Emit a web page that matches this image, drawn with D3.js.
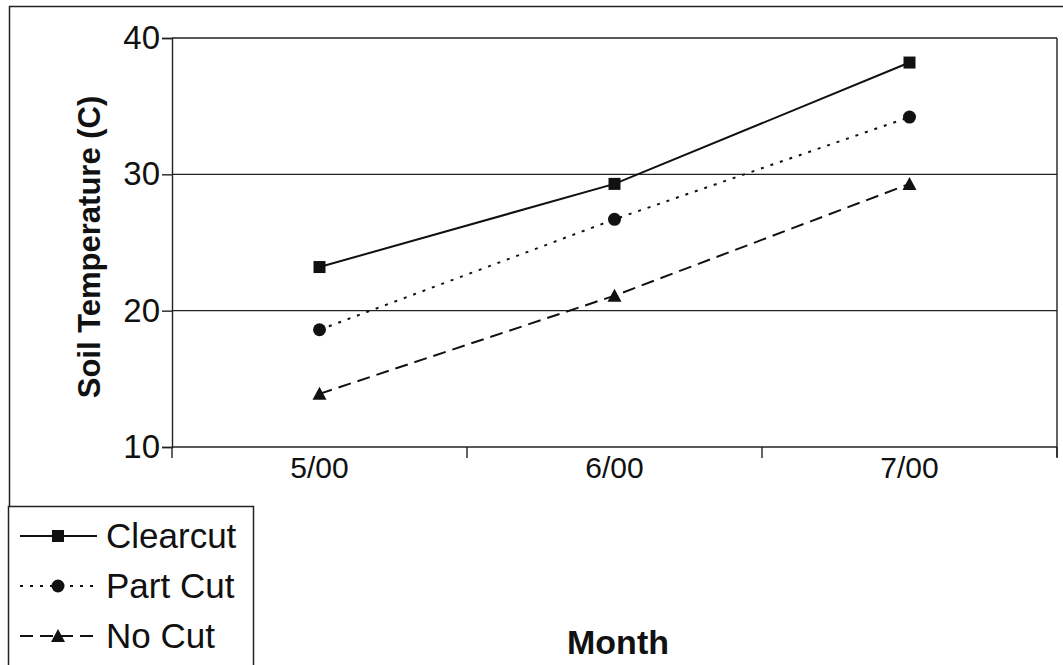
<!DOCTYPE html>
<html>
<head>
<meta charset="utf-8">
<script src="https://cdn.jsdelivr.net/npm/d3@7"></script>
<style>
	body { margin: 0; background: #fff; }
	text { font-family: "Liberation Sans", Arial, sans-serif; fill: #111; }
</style>
</head>
<body>
<svg id="chart" width="1063" height="665"></svg>
<script>
var months = ["5/00", "6/00", "7/00"];
var clearcut = [23.2, 29.3, 38.2];
var partCut = [18.6, 26.7, 34.2];
var noCut = [13.9, 21.1, 29.3];
var yTicks = [10, 20, 30, 40];

var seriesList = [
	{ name: "Clearcut", values: clearcut, dash: null, marker: "square" },
	{ name: "Part Cut", values: partCut, dash: "3,7", marker: "circle" },
	{ name: "No Cut", values: noCut, dash: "13,7", marker: "triangle" }
];

var svg = d3.select("#chart");
var plot = { left: 172, right: 1057, top: 38, bottom: 447 };

// outer chart border
svg.append("rect")
	.attr("x", 9.5).attr("y", 6.5)
	.attr("width", 1060).attr("height", 670)
	.attr("fill", "none").attr("stroke", "#222").attr("stroke-width", 1.5);

var x = d3.scaleBand().domain(months).range([plot.left, plot.right]);
var y = d3.scaleLinear().domain([10, 40]).range([plot.bottom, plot.top]);

// gridlines
svg.selectAll("line.grid")
	.data(yTicks.slice(1))
	.enter()
	.append("line")
	.attr("class", "grid")
	.attr("x1", plot.left).attr("x2", plot.right)
	.attr("y1", function(d) { return y(d); })
	.attr("y2", function(d) { return y(d); })
	.attr("stroke", "#222").attr("stroke-width", 1.4);

// right edge of plot area
svg.append("line")
	.attr("x1", plot.right).attr("x2", plot.right)
	.attr("y1", plot.top).attr("y2", plot.bottom + 10)
	.attr("stroke", "#222").attr("stroke-width", 1.4);

// y axis
var yAxis = d3.axisLeft(y).tickValues(yTicks).tickSize(10).tickPadding(2);
var gy = svg.append("g").attr("transform", "translate(" + plot.left + ",0)").call(yAxis);
gy.select(".domain").attr("stroke", "#222").attr("stroke-width", 1.4);
gy.selectAll(".tick line").attr("stroke", "#222").attr("stroke-width", 1.4);
gy.selectAll(".tick text").style("font-size", "33px").attr("fill", "#111");

// x axis, ticks on the category boundaries
var gx = svg.append("g").attr("transform", "translate(0," + plot.bottom + ")");
gx.append("line")
	.attr("x1", plot.left).attr("x2", plot.right)
	.attr("stroke", "#222").attr("stroke-width", 1.4);
var bounds = months.map(function(m) { return x(m); }).concat([x(months[months.length - 1]) + x.bandwidth()]);
gx.selectAll("line.tick")
	.data(bounds)
	.enter()
	.append("line")
	.attr("class", "tick")
	.attr("x1", function(d) { return d; }).attr("x2", function(d) { return d; })
	.attr("y1", 0).attr("y2", 11)
	.attr("stroke", "#222").attr("stroke-width", 1.4);
gx.selectAll("text.label")
	.data(months)
	.enter()
	.append("text")
	.attr("class", "label")
	.attr("x", function(d) { return x(d) + x.bandwidth() / 2; })
	.attr("y", 31)
	.attr("text-anchor", "middle")
	.style("font-size", "30px")
	.text(function(d) { return d; });

// axis titles
svg.append("text")
	.attr("x", 618).attr("y", 654)
	.attr("text-anchor", "middle")
	.style("font-size", "34px").style("font-weight", "bold")
	.text("Month");
svg.append("text")
	.attr("transform", "translate(100,247) rotate(-90)")
	.attr("text-anchor", "middle")
	.style("font-size", "31px").style("font-weight", "bold")
	.text("Soil Temperature (C)");

function drawMarker(g, type, cx, cy) {
	if (type == "square") {
		g.append("rect").attr("x", cx - 6).attr("y", cy - 6)
			.attr("width", 12).attr("height", 12).attr("fill", "#111");
	} else if (type == "circle") {
		g.append("circle").attr("cx", cx).attr("cy", cy).attr("r", 6.5).attr("fill", "#111");
	} else {
		g.append("path")
			.attr("d", "M" + cx + "," + (cy - 7) + "L" + (cx + 7) + "," + (cy + 6) + "L" + (cx - 7) + "," + (cy + 6) + "Z")
			.attr("fill", "#111");
	}
}

var line = d3.line()
	.x(function(d, i) { return x(months[i]) + x.bandwidth() / 2; })
	.y(function(d) { return y(d); });

seriesList.forEach(function(s) {
	var g = svg.append("g");
	g.append("path")
		.attr("d", line(s.values))
		.attr("fill", "none")
		.attr("stroke", "#111")
		.attr("stroke-width", 2)
		.attr("stroke-dasharray", s.dash);
	s.values.forEach(function(v, i) {
		drawMarker(g, s.marker, x(months[i]) + x.bandwidth() / 2, y(v));
	});
});

// legend
var legend = svg.append("g");
legend.append("rect")
	.attr("x", 8.5).attr("y", 506.5)
	.attr("width", 245).attr("height", 170)
	.attr("fill", "#fff").attr("stroke", "#222").attr("stroke-width", 1.5);
seriesList.forEach(function(s, i) {
	var ly = 536 + i * 50;
	legend.append("line")
		.attr("x1", 20).attr("x2", 97)
		.attr("y1", ly).attr("y2", ly)
		.attr("stroke", "#111").attr("stroke-width", 2)
		.attr("stroke-dasharray", s.dash);
	drawMarker(legend, s.marker, 58, ly);
	legend.append("text")
		.attr("x", 106).attr("y", ly + 12)
		.style("font-size", "35px")
		.text(s.name);
});
</script>
</body>
</html>
